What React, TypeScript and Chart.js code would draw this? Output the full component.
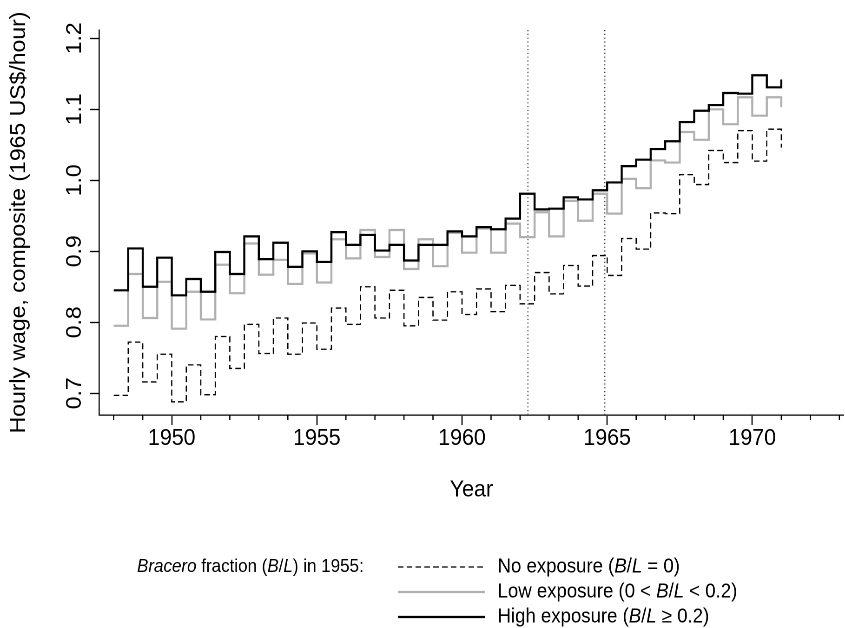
import React, { useEffect, useRef } from "react";
import { Chart, registerables } from "chart.js";

Chart.register(...registerables);

// ---------- data ----------
const periods = [
  1948, 1948.5, 1949, 1949.5, 1950, 1950.5, 1951, 1951.5, 1952, 1952.5,
  1953, 1953.5, 1954, 1954.5, 1955, 1955.5, 1956, 1956.5, 1957, 1957.5,
  1958, 1958.5, 1959, 1959.5, 1960, 1960.5, 1961, 1961.5, 1962, 1962.5,
  1963, 1963.5, 1964, 1964.5, 1965, 1965.5, 1966, 1966.5, 1967, 1967.5,
  1968, 1968.5, 1969, 1969.5, 1970, 1970.5, 1971,
];

const highExposure = [
  0.845, 0.904, 0.85, 0.891, 0.838, 0.861, 0.843, 0.899, 0.868, 0.921,
  0.889, 0.912, 0.878, 0.9, 0.885, 0.927, 0.909, 0.923, 0.901, 0.909,
  0.887, 0.909, 0.909, 0.928, 0.921, 0.934, 0.931, 0.946, 0.981, 0.959,
  0.96, 0.976, 0.973, 0.986, 0.997, 1.02, 1.029, 1.044, 1.055, 1.082,
  1.098, 1.106, 1.123, 1.122, 1.148, 1.131, 1.142,
];

const lowExposure = [
  0.795, 0.868, 0.806, 0.857, 0.791, 0.843, 0.804, 0.881, 0.841, 0.911,
  0.867, 0.888, 0.854, 0.897, 0.856, 0.917, 0.89, 0.93, 0.892, 0.93,
  0.875, 0.917, 0.879, 0.926, 0.898, 0.932, 0.898, 0.939, 0.92, 0.955,
  0.921, 0.971, 0.943, 0.981, 0.953, 1.002, 0.989, 1.028, 1.025, 1.068,
  1.057, 1.1, 1.079, 1.117, 1.091, 1.117, 1.103,
];

const noExposure = [
  0.697, 0.772, 0.716, 0.755, 0.688, 0.74, 0.698, 0.78, 0.735, 0.797,
  0.756, 0.806, 0.755, 0.799, 0.762, 0.82, 0.797, 0.85, 0.806, 0.845,
  0.795, 0.835, 0.803, 0.843, 0.811, 0.847, 0.815, 0.852, 0.826, 0.87,
  0.84, 0.88, 0.851, 0.894, 0.866, 0.918, 0.903, 0.954, 0.953, 1.008,
  0.994, 1.042, 1.025, 1.07, 1.027, 1.072, 1.046,
];

const yTickValues = [0.7, 0.8, 0.9, 1.0, 1.1, 1.2];
const xTickYears = [
  1948, 1949, 1950, 1951, 1952, 1953, 1954, 1955, 1956, 1957, 1958, 1959,
  1960, 1961, 1962, 1963, 1964, 1965, 1966, 1967, 1968, 1969, 1970, 1971,
  1972, 1973,
];
const xLabelYears = [1950, 1955, 1960, 1965, 1970];
const markerYears = [1962.27, 1964.92];

const xTitle = "Year";
const yTitle = "Hourly wage, composite (1965 US$/hour)";

type Part = [string, boolean];
const legendTitle: Part[] = [
  ["Bracero", true],
  [" fraction (", false],
  ["B", true],
  ["/", false],
  ["L", true],
  [") in 1955:", false],
];
const legendNo: Part[] = [
  ["No exposure (", false],
  ["B", true],
  ["/", false],
  ["L", true],
  [" = 0)", false],
];
const legendLow: Part[] = [
  ["Low exposure (0 < ", false],
  ["B", true],
  ["/", false],
  ["L", true],
  [" < 0.2)", false],
];
const legendHigh: Part[] = [
  ["High exposure (", false],
  ["B", true],
  ["/", false],
  ["L", true],
  [" \u2265 0.2)", false],
];

// ---------- styling / layout ----------
const FONT = '"Liberation Sans", Arial, Helvetica, sans-serif';
const W = 909;
const H = 628;
const SX = 845 / W;
const GREY = "#b0b0b0";
const DASH = [6, 3.5];
const LEG_TITLE_SIZE = 18.3;
const LEG_SIZE = 20;

function drawRich(ctx: CanvasRenderingContext2D, parts: Part[], x: number, y: number, size: number) {
  let cx = x;
  for (const [t, it] of parts) {
    ctx.font = `${it ? "italic " : ""}${size}px ${FONT}`;
    ctx.fillText(t, cx, y);
    cx += ctx.measureText(t).width;
  }
}

const overlayPlugin = {
  id: "overlay",
  beforeDatasetsDraw(chart: any) {
    const { ctx, chartArea, scales } = chart;
    ctx.save();
    ctx.strokeStyle = "#444";
    ctx.lineWidth = 1.2;
    ctx.setLineDash([1.2, 2.6]);
    for (const m of markerYears) {
      const x = scales.x.getPixelForValue(m);
      ctx.beginPath();
      ctx.moveTo(x, chartArea.top);
      ctx.lineTo(x, chartArea.bottom);
      ctx.stroke();
    }
    ctx.restore();
  },
  afterDraw(chart: any) {
    const { ctx, chartArea, scales } = chart;
    ctx.save();
    // minor ticks on x axis
    ctx.strokeStyle = "#000";
    ctx.lineWidth = 1.3;
    ctx.beginPath();
    for (const v of xTickYears) {
      if (xLabelYears.includes(v)) continue;
      const px = scales.x.getPixelForValue(v);
      ctx.moveTo(px, chartArea.bottom);
      ctx.lineTo(px, chartArea.bottom + 5);
    }
    ctx.stroke();

    // legend
    const rows = [567, 592, 617];
    const lx0 = 428;
    const lx1 = 521.7;
    const tx = 535.2;
    ctx.fillStyle = "#000";
    ctx.textBaseline = "middle";
    ctx.textAlign = "left";
    drawRich(ctx, legendTitle, 147.4, rows[0], LEG_TITLE_SIZE);

    const styles = [
      { color: "#000", width: 1.3, dash: DASH, parts: legendNo },
      { color: GREY, width: 2.2, dash: [], parts: legendLow },
      { color: "#000", width: 2.2, dash: [], parts: legendHigh },
    ];
    styles.forEach((s, i) => {
      ctx.strokeStyle = s.color;
      ctx.lineWidth = s.width;
      ctx.setLineDash(s.dash);
      ctx.beginPath();
      ctx.moveTo(lx0, rows[i]);
      ctx.lineTo(lx1, rows[i]);
      ctx.stroke();
      ctx.setLineDash([]);
      drawRich(ctx, s.parts, tx, rows[i], LEG_SIZE);
    });
    ctx.restore();
  },
};

export default function App() {
  const ref = useRef<HTMLCanvasElement>(null);

  useEffect(() => {
    if (!ref.current) return;
    const mk = (vals: number[]) => periods.map((p, i) => ({ x: p, y: vals[i] }));
    const chart = new Chart(ref.current, {
      type: "line",
      data: {
        datasets: [
          {
            label: "High exposure",
            data: mk(highExposure),
            borderColor: "#000",
            borderWidth: 2.2,
            stepped: true,
            pointRadius: 0,
            fill: false,
            borderJoinStyle: "miter",
          },
          {
            label: "Low exposure",
            data: mk(lowExposure),
            borderColor: GREY,
            borderWidth: 2.2,
            stepped: true,
            pointRadius: 0,
            fill: false,
            borderJoinStyle: "miter",
          },
          {
            label: "No exposure",
            data: mk(noExposure),
            borderColor: "#000",
            borderWidth: 1.3,
            borderDash: DASH,
            stepped: true,
            pointRadius: 0,
            fill: false,
            borderJoinStyle: "miter",
          },
        ],
      },
      options: {
        responsive: false,
        animation: false,
        devicePixelRatio: 2,
        layout: { padding: { left: 0, top: 30, right: 1.4, bottom: 113 } },
        plugins: {
          legend: { display: false },
          tooltip: { enabled: false },
        },
        scales: {
          x: {
            type: "linear",
            min: 1947.5,
            max: 1973.15,
            afterBuildTicks: (s: any) => {
              s.ticks = xTickYears.map((v) => ({ value: v }));
            },
            afterFit: (s: any) => {
              s.height = 100;
            },
            ticks: {
              autoSkip: false,
              minRotation: 0,
              maxRotation: 0,
              padding: 0,
              color: "#000",
              font: { family: FONT, size: 23 },
              callback: (v: any) => (xLabelYears.includes(Number(v)) ? String(v) : ""),
            },
            grid: {
              display: true,
              drawOnChartArea: false,
              drawTicks: true,
              tickLength: 10,
              tickWidth: 1.3,
              tickColor: (c: any) =>
                c.tick && xLabelYears.includes(c.tick.value) ? "#000" : "rgba(0,0,0,0)",
            },
            border: { display: true, color: "#000", width: 1.3 },
            title: {
              display: true,
              text: xTitle,
              color: "#000",
              font: { family: FONT, size: 23 },
              padding: { top: 0, bottom: 11 },
            },
          },
          y: {
            type: "linear",
            min: 0.6694,
            max: 1.2117,
            afterBuildTicks: (s: any) => {
              s.ticks = yTickValues.map((v) => ({ value: v }));
            },
            afterFit: (s: any) => {
              s.width = 106.7;
            },
            ticks: {
              minRotation: 90,
              maxRotation: 90,
              crossAlign: "center",
              padding: 0,
              color: "#000",
              font: { family: FONT, size: 23 },
              callback: (v: any) => Number(v).toFixed(1),
            },
            grid: {
              display: true,
              drawOnChartArea: false,
              drawTicks: true,
              tickLength: 10,
              tickWidth: 1.3,
              tickColor: "#000",
            },
            border: { display: true, color: "#000", width: 1.3 },
            title: {
              display: true,
              text: yTitle,
              color: "#000",
              font: { family: FONT, size: 23 },
              padding: { top: 7, bottom: 0 },
            },
          },
        },
      },
      plugins: [overlayPlugin],
    } as any);
    return () => chart.destroy();
  }, []);

  return (
    <div
      style={{
        position: "absolute",
        left: 0,
        top: 0,
        width: 845,
        height: 628,
        overflow: "hidden",
        background: "#fff",
      }}
    >
      <div style={{ width: W, height: H, transform: `scaleX(${SX})`, transformOrigin: "0 0" }}>
        <canvas ref={ref} width={W} height={H} style={{ display: "block", width: W, height: H }} />
      </div>
    </div>
  );
}
